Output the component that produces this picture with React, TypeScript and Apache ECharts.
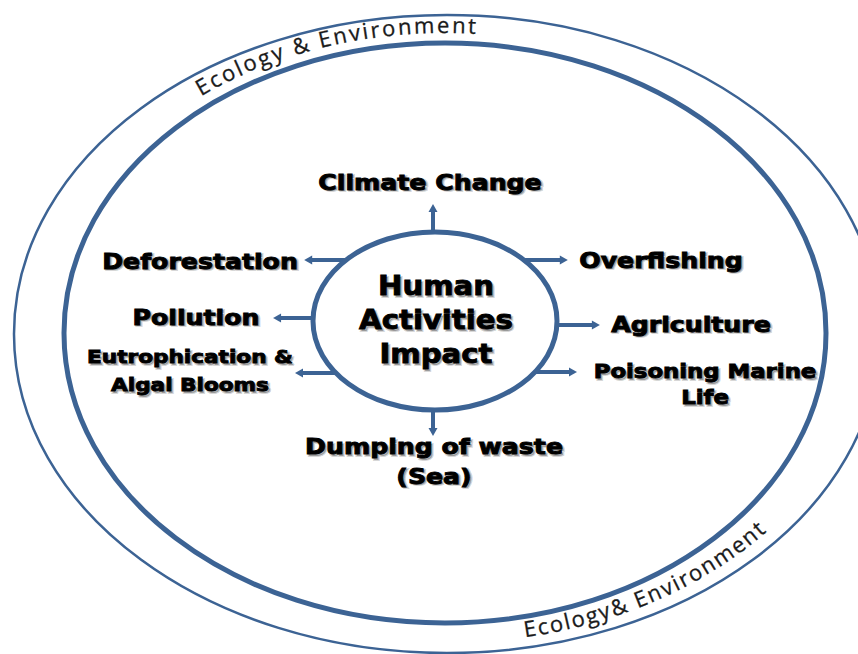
import React, { useEffect, useRef } from "react";
import * as echarts from "echarts";

const W = 858;
const H = 654;
const BLUE = "#3c6394";

// ---- diagram content ----
const centerLines = ["Human", "Activities", "Impact"];
const branchLabels = [
  "Climate Change",
  "Deforestation",
  "Pollution",
  "Eutrophication &\nAlgal Blooms",
  "Overfishing",
  "Agriculture",
  "Poisoning Marine\nLife",
  "Dumping of waste\n(Sea)",
];
const branchDirs = ["up", "left", "left", "left", "right", "right", "right", "down"];
const ringCaptions = ["Ecology & Environment", "Ecology& Environment"];

// ---- layout (positions / sizes) ----
const outerRing = { cx: 447, cy: 334, rx: 433, ry: 319, lw: 2.5 };
const innerRing = { cx: 445, cy: 333, rx: 381, ry: 290, lw: 5 };
const hub = { cx: 435, cy: 321, rx: 122, ry: 89, lw: 5 };
// offset of arrow root along hub side (y offset for left/right, x offset for up/down)
const branchOffsets = [-2, -61, -3, 52, -61, 4, 51, -2];
const arrowLengths = [28, 42, 40, 41, 44, 43, 42, 26];
const labelX = [430, 200, 196, 190, 661, 691, 705, 434];
const labelY = [182, 261, 317, 371, 260, 324, 385, 461];
const labelSize = [21, 21, 21, 18, 21, 21, 19, 21];
const labelLineH = [24, 24, 24, 28, 24, 24, 26, 30];
const captionArcs = [
  { cx: 445, cy: 333, rx: 395, ry: 298, start: 232, dir: 1, spacing: 2.2 },
  { cx: 445, cy: 333, rx: 421, ry: 312, start: 79, dir: -1, spacing: 1.8 },
];

function curvedText(text: string, arc: any, font: string) {
  const canvas = document.createElement("canvas");
  const ctx = canvas.getContext("2d")!;
  ctx.font = font;
  const pt = (t: number) => [arc.cx + arc.rx * Math.cos(t), arc.cy + arc.ry * Math.sin(t)];
  const step = 0.0004 * arc.dir;
  const advance = (t0: number, dist: number) => {
    let t = t0;
    let p = pt(t);
    let d = 0;
    while (d < dist) {
      const t2 = t + step;
      const p2 = pt(t2);
      d += Math.hypot(p2[0] - p[0], p2[1] - p[1]);
      t = t2;
      p = p2;
    }
    return t;
  };
  const els: any[] = [];
  let t = (arc.start * Math.PI) / 180;
  for (const ch of text) {
    const w = ctx.measureText(ch).width;
    const tm = advance(t, w / 2);
    const [x, y] = pt(tm);
    const dx = -arc.rx * Math.sin(tm) * arc.dir;
    const dy = arc.ry * Math.cos(tm) * arc.dir;
    const rot = -Math.atan2(dy, dx);
    els.push({
      type: "text",
      x,
      y,
      rotation: rot,
      style: {
        text: ch,
        font,
        fill: "#1a1a1a",
        stroke: "#1a1a1a",
        lineWidth: 0.3,
        textAlign: "center",
        textVerticalAlign: "bottom",
        align: "center",
        verticalAlign: "bottom",
      },
    });
    t = advance(tm, w / 2 + arc.spacing);
  }
  return els;
}

function heavyText(text: string, x: number, y: number, font: string, lineHeight: number, scaleX: number) {
  const base = {
    text,
    font,
    textAlign: "center",
    textVerticalAlign: "middle",
    align: "center",
    verticalAlign: "middle",
    lineHeight,
  };
  return [
    {
      type: "text",
      x: x + 1.8,
      y: y + 1.8,
      scaleX,
      z: 6,
      style: { ...base, fill: "rgba(0,0,0,0.28)", stroke: "rgba(0,0,0,0.18)", lineWidth: 2 },
    },
    {
      type: "text",
      x,
      y,
      scaleX,
      z: 7,
      style: { ...base, fill: "#000000", stroke: "#000000", lineWidth: 0.9 },
    },
  ];
}

function buildGraphic() {
  const els: any[] = [];
  const ring = (r: any) => ({
    type: "ellipse",
    shape: { cx: r.cx, cy: r.cy, rx: r.rx, ry: r.ry },
    style: { fill: "none", stroke: BLUE, lineWidth: r.lw },
  });
  els.push(ring(outerRing), ring(innerRing));
  els.push({
    type: "ellipse",
    shape: { cx: hub.cx, cy: hub.cy, rx: hub.rx, ry: hub.ry },
    style: { fill: "#ffffff", stroke: BLUE, lineWidth: hub.lw },
    z: 5,
  });

  branchLabels.forEach((label, i) => {
    const dir = branchDirs[i];
    const off = branchOffsets[i];
    const len = arrowLengths[i];
    let x0: number, y0: number, x1: number, y1: number;
    if (dir === "left" || dir === "right") {
      const s = dir === "left" ? -1 : 1;
      const k = Math.sqrt(Math.max(0, 1 - (off / hub.ry) ** 2));
      y0 = y1 = hub.cy + off;
      x0 = hub.cx + s * hub.rx * k;
      x1 = x0 + s * len;
    } else {
      const s = dir === "up" ? -1 : 1;
      const k = Math.sqrt(Math.max(0, 1 - (off / hub.rx) ** 2));
      x0 = x1 = hub.cx + off;
      y0 = hub.cy + s * hub.ry * k;
      y1 = y0 + s * len;
    }
    const ux = Math.sign(x1 - x0);
    const uy = Math.sign(y1 - y0);
    const hl = 8;
    const hw = 4.5;
    els.push({
      type: "line",
      shape: { x1: x0, y1: y0, x2: x1 - ux * hl * 0.6, y2: y1 - uy * hl * 0.6 },
      style: { stroke: BLUE, lineWidth: 4 },
      z: 4,
    });
    const bx = x1 - ux * hl;
    const by = y1 - uy * hl;
    els.push({
      type: "polygon",
      shape: {
        points: [
          [x1, y1],
          [bx - uy * hw, by + ux * hw],
          [bx + uy * hw, by - ux * hw],
        ],
      },
      style: { fill: BLUE },
      z: 4,
    });
    els.push(
      ...heavyText(label, labelX[i], labelY[i], `bold ${labelSize[i]}px 'DejaVu Sans'`, labelLineH[i], 1.2)
    );
  });

  els.push(...heavyText(centerLines.join("\n"), hub.cx + 1, hub.cy - 1, "bold 27px 'DejaVu Sans'", 34, 1.08));

  ringCaptions.forEach((cap, i) => {
    els.push(...curvedText(cap, captionArcs[i], "22px 'Open Sans'"));
  });
  return els;
}

export default function App() {
  const ref = useRef<HTMLDivElement>(null);
  useEffect(() => {
    if (!ref.current) return;
    const chart = echarts.init(ref.current, null, { renderer: "svg" });
    chart.setOption({
      animation: false,
      backgroundColor: "#ffffff",
      graphic: { elements: buildGraphic() },
    });
    return () => chart.dispose();
  }, []);
  return (
    <div
      ref={ref}
      style={{ width: W, height: H, position: "absolute", left: 0, top: 0 }}
    />
  );
}
